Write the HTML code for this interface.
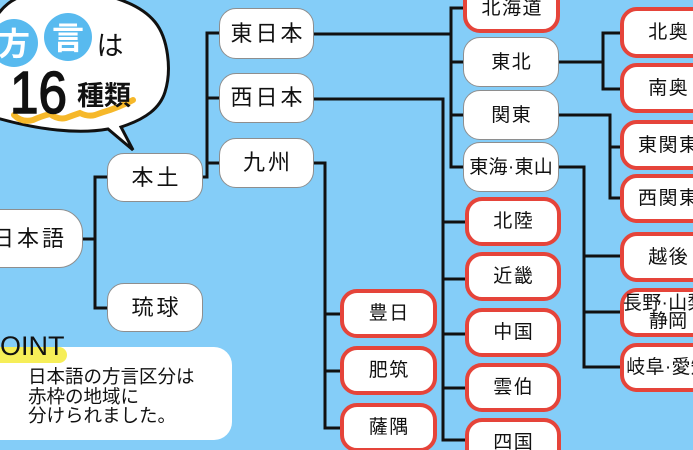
<!DOCTYPE html>
<html><head><meta charset="utf-8">
<style>
html,body{margin:0;padding:0;width:693px;height:450px;overflow:hidden;}
body{background:#84cdf8;font-family:"Liberation Sans","Noto Sans CJK JP",sans-serif;color:#111;}
#w{position:relative;width:693px;height:450px;overflow:hidden;background:#84cdf8;}
svg{position:absolute;left:0;top:0;}
.n{position:absolute;background:#fff;border:1px solid #8e8e8e;border-radius:17px;box-sizing:border-box;display:flex;align-items:center;justify-content:center;font-size:19px;letter-spacing:1.5px;padding-left:1.5px;line-height:1;white-space:nowrap;font-family:"Liberation Sans","Noto Sans CJK JP",sans-serif;text-align:center;}
.r{border:4px solid #e5443a;}
.big{font-size:22px;letter-spacing:3px;padding-left:3px;}
.tight{letter-spacing:0.3px;padding-left:0.3px;}
.pt{position:absolute;left:-40px;top:347px;width:272px;height:93px;background:#fff;border-radius:18px;}
.hl{position:absolute;left:-20px;top:347px;width:87px;height:16px;background:#f6ee58;border-radius:0 8px 8px 0;}
.ptl{position:absolute;left:-18px;top:331px;font-size:27px;line-height:30px;font-family:"Liberation Sans",sans-serif;}
.ptx{position:absolute;left:28px;top:367px;font-size:18.5px;line-height:19.5px;white-space:nowrap;}
</style></head><body><div id="w">

<svg width="693" height="450" viewBox="0 0 693 450">
<g fill="none" stroke="#111" stroke-width="3">
<path d="M80,239 H95"/>
<path d="M110,177 H95 V308 H110"/>
<path d="M200,177 H207 V33 H222"/>
<path d="M207,98 H222"/>
<path d="M207,163 H222"/>
<path d="M312,34 H451"/>
<path d="M466,8 H451 V167 H466"/>
<path d="M451,62 H466"/>
<path d="M451,115 H466"/>
<path d="M557,62 H603"/>
<path d="M623,33 H603 V89 H623"/>
<path d="M557,115 H610 V198 H623"/>
<path d="M610,147 H623"/>
<path d="M557,167 H584 V367 H623"/>
<path d="M584,256 H623"/>
<path d="M584,312 H623"/>
<path d="M312,99 H443 V440 H468"/>
<path d="M443,222 H468"/>
<path d="M443,279 H468"/>
<path d="M443,334 H468"/>
<path d="M443,388 H468"/>
<path d="M312,163 H325 V428 H343"/>
<path d="M325,314 H343"/>
<path d="M325,371 H343"/>
</g>
</svg>

<div class="pt"></div>
<div class="hl"></div>
<div class="ptl">POINT</div>
<div class="ptx">日本語の方言区分は<br>赤枠の地域に<br>分けられました。</div>

<div class="n big" style="left:-27px;top:209px;width:110px;height:59px;border-radius:24px;">日本語</div>
<div class="n big" style="left:107px;top:153px;width:96px;height:49px;">本土</div>
<div class="n big" style="left:107px;top:283px;width:96px;height:49px;">琉球</div>
<div class="n big" style="left:219px;top:8px;width:95px;height:51px;">東日本</div>
<div class="n big" style="left:219px;top:73px;width:95px;height:50px;">西日本</div>
<div class="n big" style="left:219px;top:138px;width:95px;height:50px;">九州</div>

<div class="n r" style="left:463px;top:-17px;width:97px;height:50px;">北海道</div>
<div class="n" style="left:463px;top:37px;width:96px;height:50px;">東北</div>
<div class="n" style="left:463px;top:90px;width:96px;height:50px;">関東</div>
<div class="n tight" style="left:463px;top:142px;width:96px;height:50px;">東海·東山</div>

<div class="n r" style="left:465px;top:197px;width:96px;height:49px;">北陸</div>
<div class="n r" style="left:465px;top:252px;width:96px;height:49px;">近畿</div>
<div class="n r" style="left:465px;top:308px;width:96px;height:49px;">中国</div>
<div class="n r" style="left:465px;top:363px;width:96px;height:49px;">雲伯</div>
<div class="n r" style="left:465px;top:418px;width:96px;height:49px;">四国</div>

<div class="n r" style="left:340px;top:289px;width:97px;height:49px;">豊日</div>
<div class="n r" style="left:340px;top:346px;width:97px;height:49px;">肥筑</div>
<div class="n r" style="left:340px;top:403px;width:97px;height:49px;">薩隅</div>

<div class="n r" style="left:620px;top:7px;width:96px;height:51px;">北奥</div>
<div class="n r" style="left:620px;top:63px;width:96px;height:50px;">南奥</div>
<div class="n r" style="left:620px;top:120px;width:96px;height:50px;">東関東</div>
<div class="n r" style="left:620px;top:174px;width:96px;height:49px;">西関東</div>
<div class="n r" style="left:620px;top:232px;width:96px;height:50px;">越後</div>
<div class="n r tight" style="left:620px;top:288px;width:96px;height:49px;line-height:18px;">長野·山梨·<br>静岡</div>
<div class="n r tight" style="left:620px;top:343px;width:96px;height:49px;">岐阜·愛知</div>

<svg width="693" height="450" viewBox="0 0 693 450">
<path d="M-10,28 C0,6 14,-3 30,-6 L100,-6 C118,-2 142,6 155,22 C168,38 172,70 165,92 C160,108 146,119 121,127 L133,150 L108,129 C80,134 40,131 -10,116 Z" fill="#fff" stroke="#111" stroke-width="3" stroke-linejoin="miter"/>
<circle cx="14" cy="43" r="24" fill="#58baef"/>
<circle cx="68" cy="37" r="24" fill="#58baef"/>
<text x="14" y="55" font-size="32" font-weight="bold" fill="#fff" text-anchor="middle" font-family="Noto Sans CJK JP, sans-serif">方</text>
<text x="68" y="49" font-size="32" font-weight="bold" fill="#fff" text-anchor="middle" font-family="Noto Sans CJK JP, sans-serif">言</text>
<text x="110" y="55" font-size="27" fill="#111" text-anchor="middle" font-family="Noto Sans CJK JP, sans-serif">は</text>
<path d="M14,115 Q22,123 33,120 Q42,116 50,114 Q58,120 66,118 Q74,115 80,113 Q88,117 95,115 Q103,112 110,110 Q122,106 133,100" fill="none" stroke="#f6b82a" stroke-width="6" stroke-linecap="round"/>
<text x="10" y="113" font-size="59" fill="#111" stroke="#111" stroke-width="1.6" textLength="57" lengthAdjust="spacingAndGlyphs" font-family="Liberation Sans, sans-serif">16</text>
<text x="77" y="105" font-size="27" font-weight="bold" fill="#111" font-family="Noto Sans CJK JP, sans-serif">種類</text>
</svg>

</div></body></html>
